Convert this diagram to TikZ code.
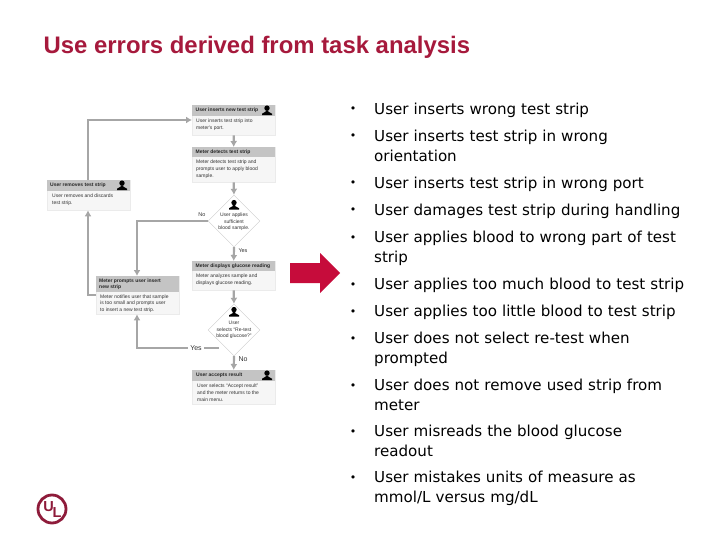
\documentclass[tikz,border=0pt]{standalone}
\usepackage{fontspec}
\setmainfont{DejaVu Sans}
\newfontfamily\titlefont{Liberation Sans}
\newfontfamily\flowfont{Liberation Sans}
\definecolor{ulred}{HTML}{A6193C}
\definecolor{logored}{HTML}{8E1B3A}
\definecolor{flowgray}{HTML}{A6A6A6}
\definecolor{headgray}{HTML}{C4C4C4}
\definecolor{bodygray}{HTML}{F6F6F6}
\definecolor{arrowred}{HTML}{C60C3B}
\usetikzlibrary{arrows.meta,shapes.geometric,positioning}
\tikzset{>={Latex[length=6pt,width=7pt]}}
\tikzset{
  flowline/.style={draw=flowgray,line width=2.2pt},
  headbox/.style={fill=headgray,inner sep=0pt,anchor=north west},
  bodybox/.style={fill=bodygray,draw=black!8,line width=0.3pt,inner sep=0pt,anchor=north west},
  headtext/.style={font=\flowfont\bfseries\fontsize{5}{6.3}\selectfont,anchor=west,inner sep=0pt,align=left,text=black!85},
  bodytext/.style={font=\flowfont\fontsize{5}{6.6}\selectfont,anchor=north west,inner sep=0pt,align=left,text=black!80},
  choice/.style={diamond,aspect=1,fill=white,draw=black!20,line width=0.4pt,inner sep=0pt,minimum width=52pt,minimum height=52pt},
  choicetext/.style={font=\flowfont\fontsize{5}{6.4}\selectfont,align=center,inner sep=0pt,text=black!80},
  flowlabel/.style={font=\flowfont\fontsize{5.5}{6}\selectfont,inner sep=0pt,text=black!80},
  biglabel/.style={flowlabel,font=\flowfont\fontsize{7}{7}\selectfont},
  errtext/.style={font=\fontsize{15.1}{19.6}\selectfont,anchor=base west,inner sep=0pt,align=left,text=black,text width=340pt},
  errdot/.style={font=\fontsize{11}{14}\selectfont,anchor=base,inner sep=0pt,text=black},
  person/.pic={
    \fill[black] (0,-2.4) circle (2.7pt);
    \fill[black] (-5,4.6) -- (-5,3.2) -- (-1.4,1.2) -- (-1.2,0) -- (1.2,0) -- (1.4,1.2) -- (5,3.2) -- (5,4.6) -- cycle;
  }
}
\begin{document}
\begin{tikzpicture}[x=1pt,y=-1pt]
  \useasboundingbox (0,0) rectangle (720,540);
  \node[font=\titlefont\bfseries\fontsize{23.9}{26}\selectfont,text=ulred,anchor=base west,inner sep=0pt] (title) at (43.5,54) {Use errors derived from task analysis};

  % flow boxes
  \node[bodybox,minimum width=83pt,minimum height=30pt] (insertbox) at (192,105) {};
  \node[headbox,minimum width=83pt,minimum height=11pt] (inserthead) at (192,105) {};
  \node[bodybox,minimum width=83pt,minimum height=35pt] (detectbox) at (192,147) {};
  \node[headbox,minimum width=83pt,minimum height=10pt] (detecthead) at (192,147) {};
  \node[bodybox,minimum width=83pt,minimum height=30pt] (removebox) at (47,180) {};
  \node[headbox,minimum width=83pt,minimum height=11pt] (removehead) at (47,180) {};
  \node[bodybox,minimum width=83pt,minimum height=29pt] (displaybox) at (192,261) {};
  \node[headbox,minimum width=83pt,minimum height=10pt] (displayhead) at (192,261) {};
  \node[bodybox,minimum width=83pt,minimum height=38pt] (promptbox) at (96,276) {};
  \node[headbox,minimum width=83pt,minimum height=16pt] (prompthead) at (96,276) {};
  \node[bodybox,minimum width=83pt,minimum height=34pt] (acceptbox) at (192,370) {};
  \node[headbox,minimum width=83pt,minimum height=11pt] (accepthead) at (192,370) {};
  \node[choice] (applyq) at (234,221) {};
  \node[choice] (retestq) at (234,330) {};

  % texts in the boxes
  \node[headtext] (inserttitle) at (195.5,110.5) {User inserts new test strip};
  \node[bodytext] (inserttext) at (196,119) {User inserts test strip into\\meter's port.};
  \node[headtext] (detecttitle) at (195.5,152) {Meter detects test strip};
  \node[bodytext] (detecttext) at (196,160) {Meter detects test strip and\\prompts user to apply blood\\sample.};
  \node[headtext] (removetitle) at (50,185.5) {User removes test strip};
  \node[bodytext] (removetext) at (52,194) {User removes and discards\\test strip.};
  \node[choicetext] (applytext) at (234,222) {User applies\\sufficient\\blood sample.};
  \node[headtext] (displaytitle) at (195.5,266) {Meter displays glucose reading};
  \node[bodytext] (displaytext) at (196,274) {Meter analyzes sample and\\displays glucose reading.};
  \node[headtext] (prompttitle) at (99,284) {Meter prompts user insert\\new strip};
  \node[bodytext] (prompttext) at (100,294.5) {Meter notifies user that sample\\is too small and prompts user\\to insert a new test strip.};
  \node[choicetext] (retesttext) at (234,330) {User\\selects “Re-test\\blood glucose?”};
  \node[headtext] (accepttitle) at (196,375.5) {User accepts result};
  \node[bodytext] (accepttext) at (197,384) {User selects “Accept result”\\and the meter returns to the\\main menu.};

  % people
  \pic at (267,110.5) {person};
  \pic at (122,185.5) {person};
  \pic at (234,205) {person};
  \pic at (234,312) {person};
  \pic at (267,375.5) {person};

  % connectors
  \coordinate (removeup) at (88,120);
  \coordinate (applyleft) at (137,221);
  \coordinate (promptside) at (88,295);
  \coordinate (yesstart) at (219,348);
  \coordinate (yesturn) at (137,348);
  \draw[flowline,->] (removehead.north -| removeup) -- (removeup) -- (insertbox.west |- removeup);
  \draw[flowline,->] (insertbox.south) -- (detecthead.north);
  \draw[flowline,->] (detectbox.south) -- (applyq.north);
  \draw[flowline,->] (applyq.south) -- (displayhead.north);
  \draw[flowline,->] (displaybox.south) -- (retestq.north);
  \draw[flowline,->] (retestq.south) -- (accepthead.north);
  \draw[flowline,->] (applyq.west) -- (applyleft) -- (applyleft |- prompthead.north);
  \draw[flowline,->] (promptbox.west |- promptside) -- (promptside) -- (promptside |- removebox.south);
  \draw[flowline,->] (yesstart) -- (yesturn) -- (yesturn |- promptbox.south);
  \node[biglabel,fill=white,inner xsep=2pt,inner ysep=1pt] (yeslabel) at (196,348) {Yes};
  \node[flowlabel] (nolabel) at (202,215) {No};
  \node[flowlabel] (yesapply) at (243,251) {Yes};
  \node[biglabel] (noretest) at (243,359) {No};

  % big arrow
  \fill[arrowred] (290,263) -- (320,263) -- (320,253) -- (340,273) -- (320,293) -- (320,283) -- (290,283) -- cycle;

  % error list
  \foreach \ypos/\errline in {109/User inserts wrong test strip,
      136/{User inserts test strip in wrong\\orientation},
      183/User inserts test strip in wrong port,
      210/User damages test strip during handling,
      237/{User applies blood to wrong part of test\\strip},
      284/User applies too much blood to test strip,
      311/User applies too little blood to test strip,
      338/{User does not select re-test when\\prompted},
      385/{User does not remove used strip from\\meter},
      431/{User misreads the blood glucose\\readout},
      477/{User mistakes units of measure as\\mmol/L versus mg/dL}}{
    \node[errdot] at (353,\ypos+4) {\textbullet};
    \node[errtext] at (374,\ypos+5.5) {\errline};
  }

  % logo
  \draw[logored,line width=2.8pt] (52,509) circle (14pt);
  \node[font=\titlefont\bfseries\fontsize{14.5}{14.5}\selectfont,text=logored,inner sep=0pt] (ulU) at (48.5,507) {U};
  \node[font=\titlefont\bfseries\fontsize{14.5}{14.5}\selectfont,text=logored,inner sep=0pt] (ulL) at (57,512.5) {L};
\end{tikzpicture}
\end{document}
